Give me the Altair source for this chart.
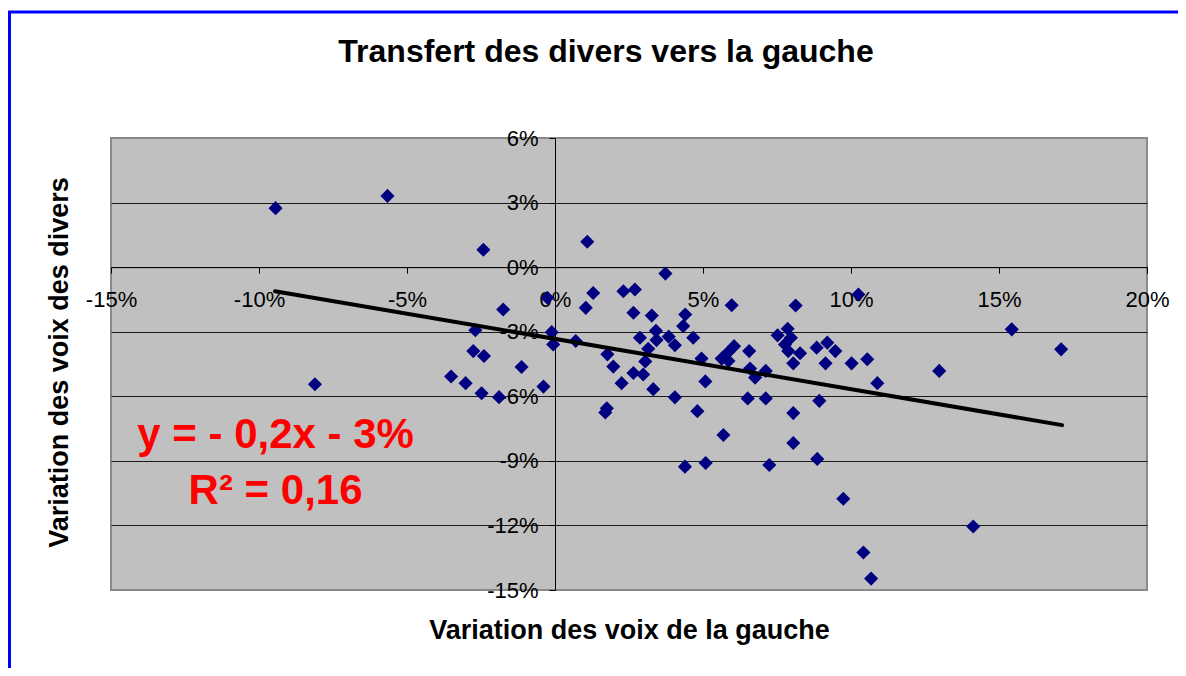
import altair as alt
import pandas as pd

# Variation des voix de la gauche (%)
x_gauche = [-9.44, -5.66, -2.42, 1.09, 3.73, 1.29, 2.31, 2.70, -0.26, 1.04,
            -1.75, 2.65, 3.27, -2.69, -0.11, 0.70, -0.06, 3.41, 2.87, 3.43,
            3.84, 4.05, -2.76, -2.40, 1.77, 3.15, 3.05, -1.13, 1.97, 2.65,
            2.98, -3.51, -3.02, -2.48, -1.89, -0.39, 2.25, 3.32, 4.05, 1.75,
            1.70, 5.97, 4.40, 4.33, 4.67, 4.95, 5.63, 5.86, 6.05, 5.86,
            5.08, 4.81, 8.13, 10.25, 7.52, 7.86, 7.97, 7.77, 7.88, 8.28,
            8.05, 6.56, 6.59, 6.76, 7.12, 8.84, 9.20, 9.47, 9.14, 10.02,
            10.55, 10.89, 6.51, 7.12, 8.93, 8.05, 12.98, 15.43, 17.10, 5.69,
            8.05, 4.39, 5.09, 7.24, 8.86, 9.74, 10.42, 10.68, 14.13, -8.11]
# Variation des voix des divers (%)
y_divers = [2.74, 3.31, 0.81, 1.18, -0.30, -1.20, -1.12, -1.04, -1.42, -1.89,
            -1.97, -2.12, -2.25, -2.93, -3.02, -3.43, -3.59, -2.96, -3.28, -3.39,
            -3.23, -3.63, -3.90, -4.13, -4.05, -3.79, -4.38, -4.64, -4.62, -4.92,
            -4.99, -5.08, -5.39, -5.86, -6.04, -5.55, -5.39, -5.67, -6.05, -6.56,
            -6.75, -1.77, -2.20, -2.74, -3.28, -4.25, -4.25, -4.36, -3.67, -3.94,
            -5.31, -6.69, -1.78, -1.27, -3.17, -2.86, -3.28, -3.59, -3.90, -4.00,
            -4.47, -3.90, -4.71, -5.13, -4.82, -3.74, -3.51, -3.90, -4.47, -4.47,
            -4.28, -5.39, -6.10, -6.10, -6.21, -6.78, -4.82, -2.89, -3.82, -7.80,
            -8.17, -9.27, -9.10, -9.19, -8.91, -10.76, -13.26, -14.47, -12.05, -5.44]
# Trend line ends
trend_x = [-9.46, 17.13]
trend_y = [-1.12, -7.34]
x_ticks = [-15, -10, -5, 0, 5, 10, 15, 20]
y_ticks = [-15, -12, -9, -6, -3, 0, 3, 6]

W, H = 1036, 452
FONT = "Liberation Sans"
X_MIN, X_MAX = -15, 20
Y_MIN, Y_MAX = -15, 6

df = pd.DataFrame({"x": x_gauche, "y": y_divers})
tdf = pd.DataFrame({"x": trend_x, "y": trend_y})
one = pd.DataFrame({"k": [0]})

xs = alt.Scale(domain=[X_MIN, X_MAX], nice=False, zero=False)
ys = alt.Scale(domain=[Y_MIN, Y_MAX], nice=False, zero=False)

x_off = -(H * (0 - Y_MIN) / (Y_MAX - Y_MIN))
y_off = -(W * (0 - X_MIN) / (X_MAX - X_MIN))

x_axis = alt.Axis(
    values=x_ticks, labelExpr="datum.value + '%'", orient="bottom", offset=x_off,
    grid=False, tickSize=6, tickColor="black", domainColor="black",
    labelPadding=16, labelFontSize=22, labelFont=FONT, labelColor="black",
    labelFlush=False, labelOverlap=False, labelBound=False,
    title="Variation des voix de la gauche", titleX=W / 2, titleY=371,
    titleBaseline="alphabetic", titleFont=FONT, titleFontSize=27,
    titleFontWeight="bold", titleColor="black",
)
y_axis = alt.Axis(
    values=y_ticks, labelExpr="datum.value + '%'", orient="left", offset=y_off,
    grid=True,
    gridColor={"condition": {"test": "datum.value == 6 || datum.value == -15",
                             "value": "#8a8a8a"}, "value": "#1a1a1a"},
    gridWidth=1,
    tickSize=6, tickColor="black", domainColor="black",
    labelPadding=11, labelFontSize=22, labelFont=FONT, labelColor="black",
    labelFlush=False, labelOverlap=False, labelBound=False,
    title="Variation des voix des divers", titleX=-488, titleY=224,
    titleBaseline="alphabetic", titleFont=FONT, titleFontSize=27,
    titleFontWeight="bold", titleColor="black", titleAngle=270,
)

frame = alt.Chart(one).mark_rect(fill="transparent", stroke="#0000ff", strokeWidth=3).encode(
    x=alt.value(-101.5), x2=alt.value(1200), y=alt.value(-126), y2=alt.value(700)
)

points = alt.Chart(df).mark_point(
    shape="diamond", filled=True, color="#000080", size=200, opacity=1
).encode(
    x=alt.X("x:Q", scale=xs, axis=x_axis),
    y=alt.Y("y:Q", scale=ys, axis=y_axis),
)

trend = alt.Chart(tdf).mark_line(color="black", strokeWidth=4, strokeCap="round").encode(
    x=alt.X("x:Q", scale=xs, axis=x_axis),
    y=alt.Y("y:Q", scale=ys, axis=y_axis),
)

eq1 = alt.Chart(one).mark_text(
    text="y = - 0,2x - 3%", color="#ff0000", font=FONT, fontSize=42,
    fontWeight="bold", align="center", baseline="alphabetic"
).encode(x=alt.datum(-9.44), y=alt.datum(-8.40))

eq2 = alt.Chart(one).mark_text(
    text="R² = 0,16", color="#ff0000", font=FONT, fontSize=42,
    fontWeight="bold", align="center", baseline="alphabetic"
).encode(x=alt.datum(-9.44), y=alt.datum(-11.0))

title = alt.Chart(one).mark_text(
    text="Transfert des divers vers la gauche", color="black", font=FONT,
    fontSize=32, fontWeight="bold", align="center", baseline="alphabetic"
).encode(x=alt.value(495), y=alt.value(-76))

chart = alt.layer(frame, points, trend, eq1, eq2, title).properties(
    width=W, height=H,
    autosize=alt.AutoSizeParams(type="none"),
    padding={"left": 103, "top": 130, "right": 31, "bottom": 78},
    background="white",
).configure_view(fill="#c0c0c0", stroke="#8a8a8a", strokeWidth=2)

chart.save("out.html", embed_options={"renderer": "svg", "actions": False})
